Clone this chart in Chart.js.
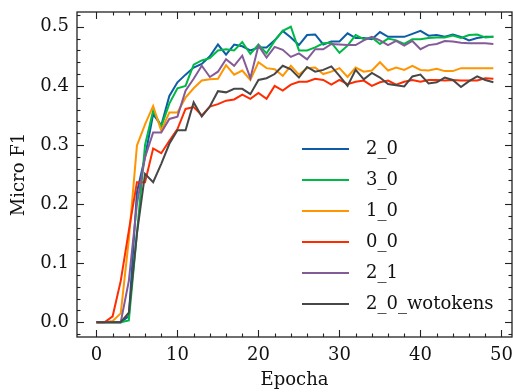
<!DOCTYPE html>
<html>
<head>
<meta charset="utf-8">
<script src="https://cdn.jsdelivr.net/npm/chart.js@4.4.1/dist/chart.umd.min.js"></script>
<style>
  html, body { margin: 0; padding: 0; background: #fff; }
  #wrap { width: 513px; height: 392px; }
</style>
</head>
<body>
<div id="wrap"><canvas id="chart" width="513" height="392"></canvas></div>
<script>
// ---- data ----
const epochs = [0, 1, 2, 3, 4, 5, 6, 7, 8, 9, 10, 11, 12, 13, 14, 15, 16, 17, 18, 19,
  20, 21, 22, 23, 24, 25, 26, 27, 28, 29, 30, 31, 32, 33, 34, 35, 36, 37, 38, 39,
  40, 41, 42, 43, 44, 45, 46, 47, 48, 49];

const xTicks = [0, 10, 20, 30, 40, 50];
const yTicks = [0.0, 0.1, 0.2, 0.3, 0.4, 0.5];

const seriesNames = ['2_0', '3_0', '1_0', '0_0', '2_1', '2_0_wotokens'];

const run2_0 = [0, 0, 0, 0, 0.01, 0.22, 0.28, 0.352, 0.333, 0.383,
  0.406, 0.419, 0.431, 0.437, 0.45, 0.47, 0.453, 0.47, 0.467, 0.46,
  0.465, 0.465, 0.477, 0.493, 0.482, 0.469, 0.486, 0.487, 0.47, 0.475,
  0.475, 0.489, 0.481, 0.481, 0.479, 0.491, 0.483, 0.483, 0.483, 0.488,
  0.493, 0.485, 0.486, 0.483, 0.487, 0.483, 0.477, 0.481, 0.483, 0.483];

const run3_0 = [0, 0, 0, 0, 0.003, 0.15, 0.3, 0.358, 0.331, 0.37,
  0.396, 0.4, 0.436, 0.443, 0.447, 0.46, 0.462, 0.46, 0.474, 0.454,
  0.47, 0.455, 0.476, 0.493, 0.5, 0.46, 0.46, 0.465, 0.472, 0.473,
  0.456, 0.468, 0.486, 0.479, 0.482, 0.471, 0.48, 0.477, 0.471, 0.479,
  0.479, 0.481, 0.482, 0.482, 0.485, 0.481, 0.486, 0.487, 0.482, 0.483];

const run1_0 = [0, 0, 0.002, 0.015, 0.14, 0.299, 0.335, 0.366, 0.324, 0.355,
  0.355, 0.38, 0.396, 0.409, 0.411, 0.412, 0.435, 0.419, 0.426, 0.41,
  0.44, 0.43, 0.428, 0.417, 0.434, 0.419, 0.43, 0.431, 0.42, 0.424,
  0.43, 0.415, 0.431, 0.424, 0.426, 0.44, 0.426, 0.431, 0.427, 0.434,
  0.427, 0.426, 0.429, 0.425, 0.425, 0.43, 0.43, 0.43, 0.43, 0.43];

const run0_0 = [0, 0, 0.01, 0.07, 0.155, 0.237, 0.237, 0.294, 0.286, 0.307,
  0.327, 0.361, 0.364, 0.35, 0.365, 0.369, 0.375, 0.377, 0.385, 0.378,
  0.388, 0.378, 0.4, 0.392, 0.402, 0.407, 0.407, 0.412, 0.41, 0.402,
  0.41, 0.403, 0.407, 0.409, 0.4, 0.406, 0.409, 0.402, 0.407, 0.41,
  0.407, 0.41, 0.41, 0.409, 0.41, 0.409, 0.409, 0.409, 0.413, 0.412];

const run2_1 = [0, 0, 0, 0, 0.07, 0.2, 0.279, 0.321, 0.321, 0.344,
  0.348, 0.392, 0.412, 0.434, 0.415, 0.424, 0.445, 0.434, 0.451, 0.413,
  0.468, 0.448, 0.466, 0.461, 0.449, 0.455, 0.445, 0.462, 0.462, 0.471,
  0.47, 0.469, 0.469, 0.477, 0.483, 0.477, 0.469, 0.476, 0.468, 0.476,
  0.462, 0.469, 0.471, 0.476, 0.475, 0.473, 0.472, 0.472, 0.472, 0.471];

const run2_0wot = [0, 0, 0, 0, 0.016, 0.15, 0.251, 0.237, 0.268, 0.302,
  0.325, 0.325, 0.372, 0.348, 0.365, 0.391, 0.389, 0.395, 0.395, 0.386,
  0.41, 0.413, 0.42, 0.434, 0.428, 0.414, 0.432, 0.424, 0.427, 0.433,
  0.417, 0.4, 0.427, 0.411, 0.422, 0.414, 0.403, 0.401, 0.399, 0.416,
  0.419, 0.404, 0.406, 0.414, 0.41, 0.398, 0.408, 0.416, 0.41, 0.406];

const allRuns = [run2_0, run3_0, run1_0, run0_0, run2_1, run2_0wot];
const colors = ['#0C5DA5', '#00B945', '#FF9500', '#FF2C00', '#845B97', '#474747'];

const FONT = 'DejaVu Serif';

// ticks pointing inward on all four sides, plus the frame
const frameTicks = {
  id: 'frameTicks',
  afterDatasetsDraw(chart) {
    const { ctx, chartArea: a, scales: { x, y } } = chart;
    const line = (x1, y1, x2, y2) => {
      ctx.beginPath(); ctx.moveTo(x1, y1); ctx.lineTo(x2, y2); ctx.stroke();
    };
    ctx.save();
    ctx.strokeStyle = '#222';
    ctx.lineWidth = 1.1;
    for (let v = 0; v <= x.max; v += 2) {
      const px = Math.round(x.getPixelForValue(v)) + 0.5;
      const len = v % 10 === 0 ? 7 : 3.5;
      line(px, a.bottom, px, a.bottom - len);
      line(px, a.top, px, a.top + len);
    }
    for (let i = -1; i <= 26; i++) {
      const v = i * 0.02;
      if (v < y.min || v > y.max) continue;
      const py = Math.round(y.getPixelForValue(v)) + 0.5;
      const len = i % 5 === 0 ? 7 : 3.5;
      line(a.left, py, a.left + len, py);
      line(a.right, py, a.right - len, py);
    }
    ctx.lineWidth = 1.3;
    ctx.strokeRect(a.left, a.top, a.right - a.left, a.bottom - a.top);
    ctx.restore();
  }
};

// legend drawn inside the axes, lower right, no frame
const innerLegend = {
  id: 'innerLegend',
  afterDraw(chart) {
    const { ctx } = chart;
    ctx.save();
    ctx.font = '18px "' + FONT + '"';
    ctx.textBaseline = 'middle';
    ctx.fillStyle = '#111';
    seriesNames.forEach((name, i) => {
      const cy = 149 + i * 31;
      ctx.strokeStyle = colors[i];
      ctx.lineWidth = 2;
      ctx.beginPath(); ctx.moveTo(302, cy); ctx.lineTo(349, cy); ctx.stroke();
      ctx.fillText(name, 366, cy);
    });
    ctx.restore();
  }
};

new Chart(document.getElementById('chart'), {
  type: 'line',
  data: {
    datasets: allRuns.map((run, i) => ({
      label: seriesNames[i],
      data: run.map((v, k) => ({ x: epochs[k], y: v })),
      borderColor: colors[i],
      backgroundColor: colors[i],
      borderWidth: 2,
      pointRadius: 0,
      tension: 0,
      fill: false,
      order: allRuns.length - i
    }))
  },
  options: {
    responsive: false,
    animation: false,
    events: [],
    layout: { padding: { top: 12, right: 1, left: 0, bottom: 0 } },
    plugins: { legend: { display: false }, tooltip: { enabled: false } },
    scales: {
      x: {
        type: 'linear',
        min: -2.4,
        max: 51.3,
        grid: { display: false, drawTicks: false },
        border: { display: false },
        afterBuildTicks: s => { s.ticks = xTicks.map(v => ({ value: v })); },
        afterFit: s => { s.height = 55; s.paddingLeft = 0; s.paddingRight = 0; },
        ticks: {
          color: '#111',
          padding: 8,
          maxRotation: 0,
          autoSkip: false,
          font: { family: FONT, size: 18 },
          callback: v => String(v)
        },
        title: {
          display: true,
          text: 'Epocha',
          color: '#111',
          padding: { top: 0, bottom: 1 },
          font: { family: FONT, size: 18 }
        }
      },
      y: {
        min: -0.025,
        max: 0.525,
        grid: { display: false, drawTicks: false },
        border: { display: false },
        afterBuildTicks: s => { s.ticks = yTicks.map(v => ({ value: v })); },
        afterFit: s => { s.width = 77; s.paddingTop = 0; s.paddingBottom = 0; },
        ticks: {
          color: '#111',
          padding: 8,
          autoSkip: false,
          font: { family: FONT, size: 18 },
          callback: v => v.toFixed(1)
        },
        title: {
          display: true,
          text: 'Micro F1',
          color: '#111',
          padding: { top: 9, bottom: 0 },
          font: { family: FONT, size: 18 }
        }
      }
    }
  },
  plugins: [frameTicks, innerLegend]
});
</script>
</body>
</html>
